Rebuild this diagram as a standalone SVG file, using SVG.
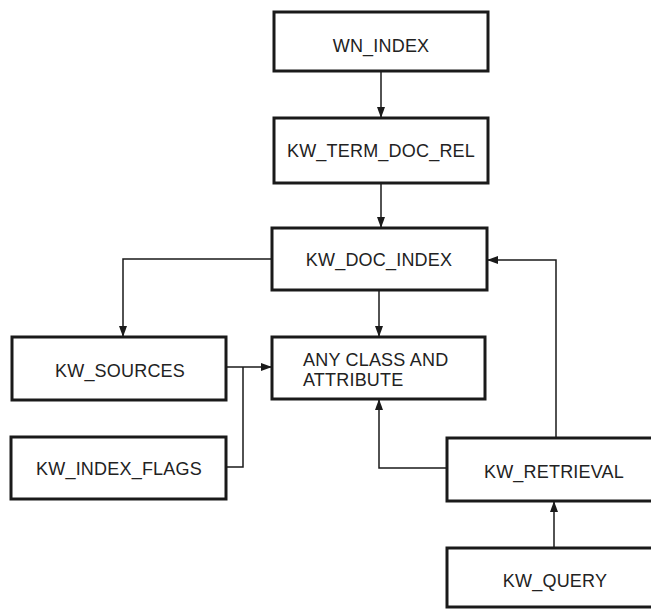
<svg xmlns="http://www.w3.org/2000/svg" width="651" height="609" viewBox="0 0 651 609">
  <style>
    .box { fill: #ffffff; stroke: #1a1a1a; stroke-width: 3; }
    .lbl { font-family: "Liberation Sans", Arial, sans-serif; font-size: 18px; fill: #222222; letter-spacing: 0.2px; }
    .mid { text-anchor: middle; }
    .edge { fill: none; stroke: #1a1a1a; stroke-width: 1.5; }
  </style>
  <defs>
    <marker id="arrow" markerUnits="userSpaceOnUse" markerWidth="11" markerHeight="10" refX="11" refY="5" orient="auto">
      <path d="M0,1 L11,5 L0,9 Z" fill="#1a1a1a"/>
    </marker>
  </defs>
  <rect width="651" height="609" fill="#ffffff"/>

  <g id="connectors">
    <path class="edge" d="M381,71 V118" marker-end="url(#arrow)"/>
    <path class="edge" d="M381,183 V228" marker-end="url(#arrow)"/>
    <path class="edge" d="M272,259 H123 V337" marker-end="url(#arrow)"/>
    <path class="edge" d="M379,290 V337" marker-end="url(#arrow)"/>
    <path class="edge" d="M226,367 H272" marker-end="url(#arrow)"/>
    <path class="edge" d="M226,467 H243 V367"/>
    <path class="edge" d="M447,468 H379 V399" marker-end="url(#arrow)"/>
    <path class="edge" d="M556,438 V260 H487" marker-end="url(#arrow)"/>
    <path class="edge" d="M554,548 V501" marker-end="url(#arrow)"/>
  </g>

  <g id="wn_index">
    <rect class="box" x="274" y="12" width="214" height="59"/>
    <text class="lbl mid" x="381" y="52">WN_INDEX</text>
  </g>
  <g id="kw_term_doc_rel">
    <rect class="box" x="274" y="118" width="214" height="65"/>
    <text class="lbl mid" x="381" y="157">KW_TERM_DOC_REL</text>
  </g>
  <g id="kw_doc_index">
    <rect class="box" x="272" y="228" width="215" height="62"/>
    <text class="lbl mid" x="379" y="266">KW_DOC_INDEX</text>
  </g>
  <g id="kw_sources">
    <rect class="box" x="12" y="337" width="214" height="63"/>
    <text class="lbl mid" x="120" y="377">KW_SOURCES</text>
  </g>
  <g id="any_class_and_attribute">
    <rect class="box" x="272" y="337" width="213" height="62"/>
    <text class="lbl" x="303" y="366">ANY CLASS AND</text>
    <text class="lbl" x="303" y="386">ATTRIBUTE</text>
  </g>
  <g id="kw_index_flags">
    <rect class="box" x="11" y="437" width="215" height="62"/>
    <text class="lbl mid" x="119" y="475">KW_INDEX_FLAGS</text>
  </g>
  <g id="kw_retrieval">
    <rect class="box" x="447" y="438" width="215" height="63"/>
    <text class="lbl mid" x="554" y="478">KW_RETRIEVAL</text>
  </g>
  <g id="kw_query">
    <rect class="box" x="447" y="548" width="215" height="59"/>
    <text class="lbl mid" x="555" y="587">KW_QUERY</text>
  </g>
</svg>
